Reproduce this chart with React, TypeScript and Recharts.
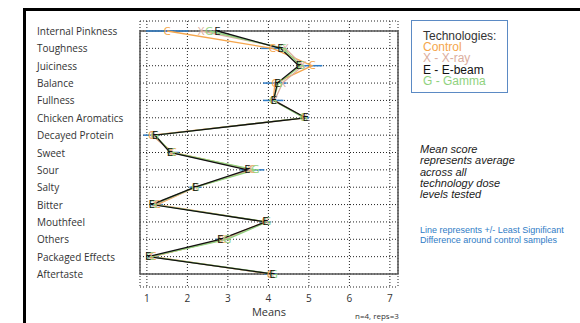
import { ComposedChart, Line, XAxis, YAxis, CartesianGrid, ReferenceArea, ErrorBar } from 'recharts';

const CATEGORIES = [
  'Internal Pinkness',
  'Toughness',
  'Juiciness',
  'Balance',
  'Fullness',
  'Chicken Aromatics',
  'Decayed Protein',
  'Sweet',
  'Sour',
  'Salty',
  'Bitter',
  'Mouthfeel',
  'Others',
  'Packaged Effects',
  'Aftertaste',
];

const CONTROL = [1.5, 4.1, 5.08, 4.16, 4.12, 4.9, 1.12, 1.65, 3.6, 2.2, 1.25, 3.92, 2.85, 1.15, 4.05];
const XRAY = [2.34, 4.42, 4.85, 4.35, 4.15, 4.9, 1.15, 1.6, 3.55, 2.2, 1.2, 3.95, 2.9, 1.1, 4.08];
const EBEAM = [2.74, 4.3, 4.75, 4.22, 4.13, 4.92, 1.2, 1.57, 3.48, 2.19, 1.12, 3.93, 2.81, 1.03, 4.1];
const GAMMA = [2.54, 4.36, 4.8, 4.25, 4.12, 4.87, 1.2, 1.6, 3.68, 2.2, 1.15, 3.97, 2.98, 1.08, 4.13];
// +/- least significant difference around control
const LSD = [0.52, 0.28, 0.25, 0.29, 0.25, 0.1, 0.2, 0.15, 0.3, 0.15, 0.15, 0.15, 0.15, 0.15, 0.15];

const X_TICKS = [1, 2, 3, 4, 5, 6, 7];

const SERIES = [
  { key: 'c', letter: 'C', color: '#f5a64c' },
  { key: 'x', letter: 'X', color: '#dcae9e' },
  { key: 'g', letter: 'G', color: '#8fd27e' },
  { key: 'e', letter: 'E', color: '#111111' },
];

const data = CATEGORIES.map((attr, i) => ({
  attr,
  c: CONTROL[i],
  x: XRAY[i],
  e: EBEAM[i],
  g: GAMMA[i],
  lsd: LSD[i],
}));

const FONT = '"Open Sans", "Liberation Sans", sans-serif';
const ARIAL = '"Liberation Sans", Arial, sans-serif';

function letterDot(letter: string, color: string) {
  return (p: any) => (
    <text
      key={`${letter}-${p.index}`}
      x={p.cx}
      y={p.cy - 1}
      textAnchor="middle"
      dominantBaseline="central"
      fontSize={11.5}
      fontFamily={FONT}
      fill={color}
    >
      {letter}
    </text>
  );
}

function CategoryTick(p: any) {
  return (
    <text x={37} y={p.y} dominantBaseline="central" fontSize={10} fontFamily={FONT} fill="#333">
      {p.payload.value}
    </text>
  );
}

export default function App() {
  return (
    <div style={{ position: 'absolute', left: 0, top: 0, width: 580, height: 323, background: '#fff', overflow: 'hidden' }}>
      <div style={{ position: 'absolute', left: 23, top: 8, width: 560, height: 320, borderLeft: '3px solid #000', borderTop: '3px solid #000' }} />
      <ComposedChart
        width={580}
        height={323}
        data={data}
        layout="vertical"
        margin={{ top: 21, right: 182, bottom: 0, left: 25 }}
      >
        <CartesianGrid stroke="#222" strokeDasharray="1 2" />
        <XAxis
          type="number"
          domain={[0.83, 7.2]}
          ticks={X_TICKS}
          allowDataOverflow
          axisLine={false}
          tickLine={false}
          height={36}
          tick={{ fontSize: 10, fontFamily: FONT, fill: '#333' }}
          label={{ value: 'Means', position: 'insideBottom', offset: 7, fontSize: 11, fontFamily: FONT, fill: '#333' }}
        />
        <YAxis
          type="category"
          dataKey="attr"
          width={115}
          axisLine={false}
          tickLine={false}
          interval={0}
          padding={{ top: 10, bottom: 13 }}
          tick={CategoryTick}
        />
        <ReferenceArea x1={0.83} x2={7.2} fill="none" stroke="#555" strokeWidth={1.5} ifOverflow="visible" />
        <Line dataKey="c" stroke="none" dot={false} activeDot={false} isAnimationActive={false}>
          <ErrorBar dataKey="lsd" direction="x" width={0} stroke="#2f7cc6" strokeWidth={1.5} isAnimationActive={false} />
        </Line>
        {SERIES.map((s) => (
          <Line
            key={s.key}
            dataKey={s.key}
            stroke={s.color}
            strokeWidth={1.3}
            dot={letterDot(s.letter, s.color)}
            activeDot={false}
            isAnimationActive={false}
          />
        ))}
      </ComposedChart>

      <div style={{ position: 'absolute', left: 355, top: 310, fontSize: 8, fontFamily: FONT, color: '#333' }}>n=4, reps=3</div>

      <div
        style={{
          position: 'absolute',
          left: 411,
          top: 20,
          width: 97,
          height: 73,
          border: '1px solid #5b8ac4',
          fontFamily: ARIAL,
          fontSize: 12,
          lineHeight: '11.2px',
          padding: '10px 0 0 11px',
          boxSizing: 'border-box',
        }}
      >
        <div style={{ color: '#333' }}>Technologies:</div>
        <div style={{ color: '#f5a64c' }}>Control</div>
        <div style={{ color: '#dcae9e' }}>X - X-ray</div>
        <div style={{ color: '#111' }}>E - E-beam</div>
        <div style={{ color: '#8fd27e' }}>G - Gamma</div>
      </div>

      <div
        style={{
          position: 'absolute',
          left: 420,
          top: 144,
          fontFamily: ARIAL,
          fontStyle: 'italic',
          fontSize: 11,
          lineHeight: '11.3px',
          color: '#222',
        }}
      >
        Mean score
        <br />
        represents average
        <br />
        across all
        <br />
        technology dose
        <br />
        levels tested
      </div>

      <div
        style={{
          position: 'absolute',
          left: 420,
          top: 225,
          fontFamily: ARIAL,
          fontSize: 9,
          lineHeight: '10.3px',
          color: '#2f7cc6',
        }}
      >
        Line represents +/- Least Significant
        <br />
        Difference around control samples
      </div>
    </div>
  );
}
